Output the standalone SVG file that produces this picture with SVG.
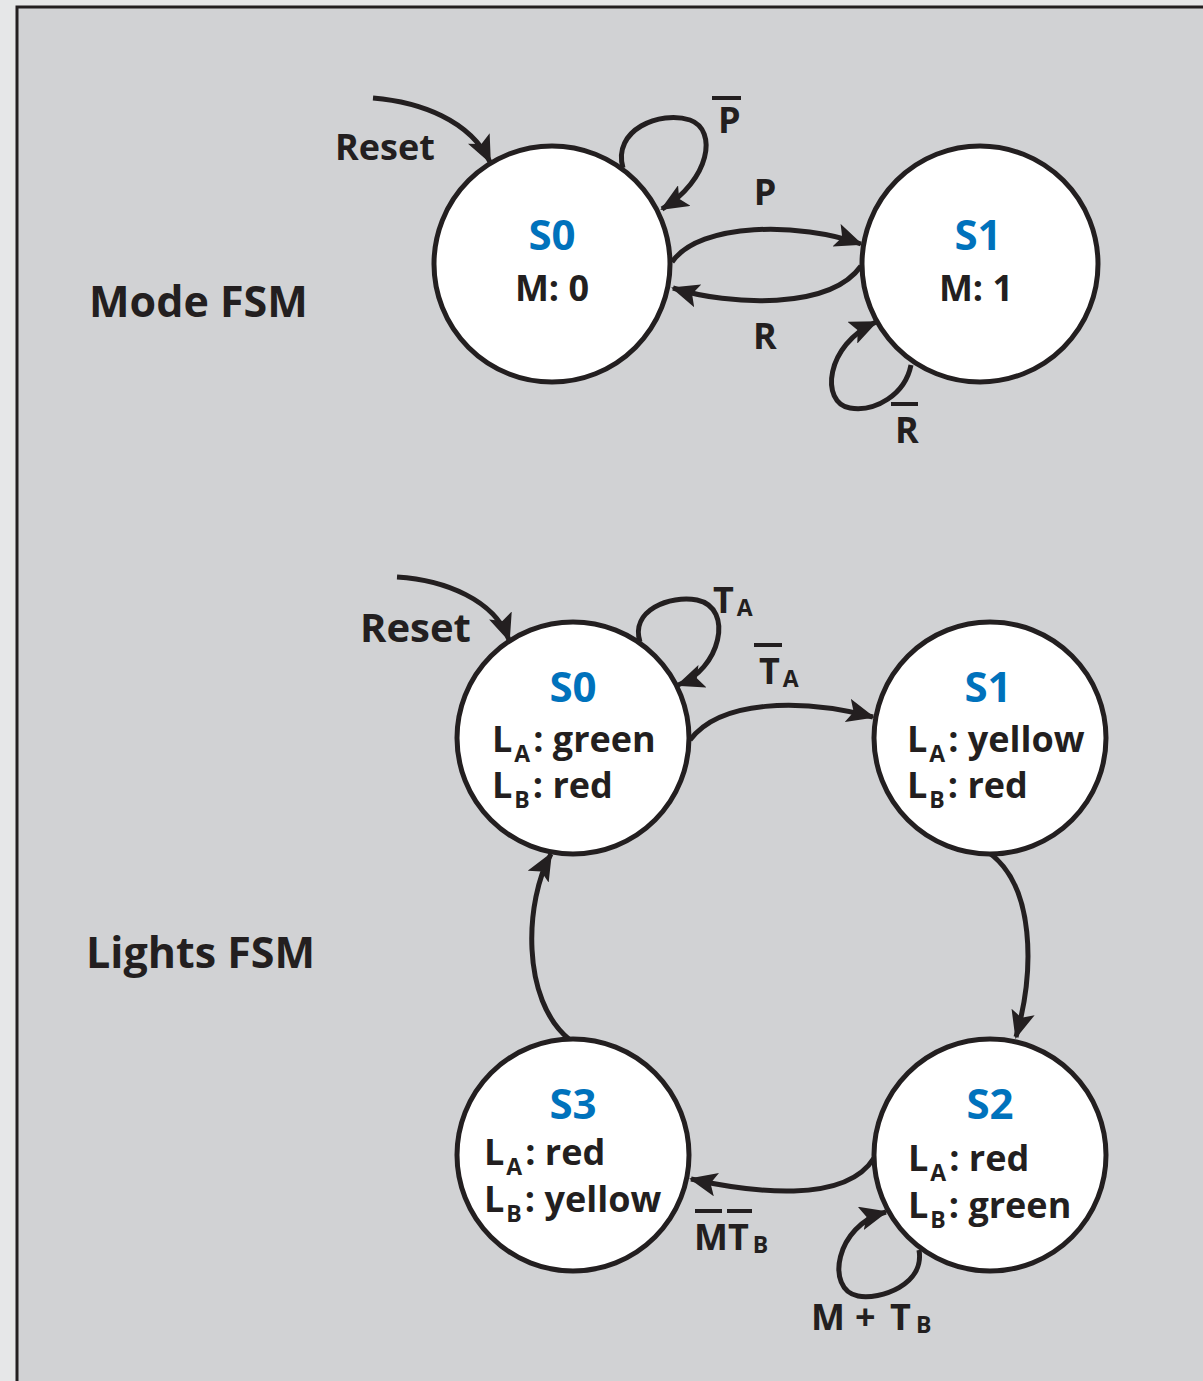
<svg xmlns="http://www.w3.org/2000/svg" width="1203" height="1381" viewBox="0 0 1203 1381">
<defs>
<marker id="ah" viewBox="0 0 28 24" refX="26" refY="12" markerWidth="28" markerHeight="24" markerUnits="userSpaceOnUse" orient="auto">
<path d="M0,0 L28,12 L0,24 L6,12 Z" fill="#231f20"/>
</marker>
<style>
.st{fill:#fff;stroke:#231f20;stroke-width:5}
.e{fill:none;stroke:#231f20;stroke-width:5;marker-end:url(#ah)}
.ol{stroke:#231f20;stroke-width:4}
text{font-family:"Open Sans","Liberation Sans",sans-serif;font-weight:700;fill:#231f20}
.nm{fill:#0072bc;font-size:42px;text-anchor:middle}
.t{font-size:36px}
.sub{font-size:23px}
.lbl{font-size:36px}
.big{font-size:43px}
</style>
</defs>
<rect width="1203" height="1381" fill="#e6e7e8"/>
<rect x="17" y="7" width="1200" height="1400" fill="#d1d2d4" stroke="#231f20" stroke-width="3"/>
<text class="big" x="89" y="317">Mode FSM</text>
<text class="big" x="86" y="968">Lights FSM</text>
<g id="connectors">
<path class="e" d="M373,98 C420,102 470,120 490,162"/>
<path class="e" d="M623,168 C612,130 660,110 690,120 C718,130 710,180 662,209"/>
<path class="e" d="M672,262 C700,222 800,222 861,244"/>
<path class="e" d="M861,266 C830,310 730,306 673,288"/>
<path class="e" d="M911,365 C905,395 875,412 850,408 C820,403 825,345 876,322"/>
<path class="e" d="M397,577 C445,580 495,600 509,640"/>
<path class="e" d="M640,642 C630,610 670,595 697,600 C735,608 720,670 678,685"/>
<path class="e" d="M690,740 C720,700 800,698 873,717"/>
<path class="e" d="M988,852 C1035,885 1035,970 1016,1037"/>
<path class="e" d="M570,1040 C520,1000 525,900 551,854"/>
<path class="e" d="M874,1158 C845,1205 750,1192 691,1179"/>
<path class="e" d="M919,1250 C925,1285 880,1300 858,1296 C825,1290 835,1225 886,1212"/>
</g>
<g id="labels">
<text class="lbl" x="335" y="160">Reset</text>
<text class="lbl" x="718" y="133">P</text>
<line class="ol" x1="712" y1="98" x2="741" y2="98"/>
<text class="lbl" x="765" y="205" text-anchor="middle">P</text>
<text class="lbl" x="765" y="349" text-anchor="middle">R</text>
<text class="lbl" x="895" y="443">R</text>
<line class="ol" x1="891" y1="404" x2="918" y2="404"/>
<text class="lbl" x="360" y="642" style="font-size:40px">Reset</text>
<text class="lbl" x="713" y="613">T<tspan class="sub" dx="3" dy="3">A</tspan></text>
<text class="lbl" x="759" y="684">T<tspan class="sub" dx="3" dy="3">A</tspan></text>
<line class="ol" x1="754" y1="645" x2="782" y2="645"/>
<text class="lbl" x="694" y="1250">MT<tspan class="sub" dx="4" dy="3">B</tspan></text>
<line class="ol" x1="695" y1="1211" x2="722" y2="1211"/>
<line class="ol" x1="727" y1="1211" x2="752" y2="1211"/>
<text class="lbl" x="811" y="1330">M <tspan x="855">+</tspan> <tspan x="890">T</tspan><tspan class="sub" x="916" dy="3">B</tspan></text>
</g>
<g id="mode-s0">
<circle class="st" cx="552" cy="264" r="118"/>
<text class="nm" x="552" y="250">S0</text>
<text class="t" x="552" y="301" text-anchor="middle">M: 0</text>
</g>
<g id="mode-s1">
<circle class="st" cx="980" cy="264" r="118"/>
<text class="nm" x="978" y="250">S1</text>
<text class="t" x="976" y="301" text-anchor="middle">M: 1</text>
</g>
<g id="lights-s0">
<circle class="st" cx="573" cy="738" r="116"/>
<text class="nm" x="573" y="702">S0</text>
<text class="t" x="492" y="752">L<tspan class="sub" dx="2" dy="10">A</tspan><tspan dx="3" dy="-10">: green</tspan></text>
<text class="t" x="492" y="798">L<tspan class="sub" dx="2" dy="10">B</tspan><tspan dx="3" dy="-10">: red</tspan></text>
</g>
<g id="lights-s1">
<circle class="st" cx="990" cy="738" r="116"/>
<text class="nm" x="988" y="702">S1</text>
<text class="t" x="907" y="752">L<tspan class="sub" dx="2" dy="10">A</tspan><tspan dx="3" dy="-10">: yellow</tspan></text>
<text class="t" x="907" y="798">L<tspan class="sub" dx="2" dy="10">B</tspan><tspan dx="3" dy="-10">: red</tspan></text>
</g>
<g id="lights-s2">
<circle class="st" cx="990" cy="1155" r="116"/>
<text class="nm" x="990" y="1119">S2</text>
<text class="t" x="908" y="1171">L<tspan class="sub" dx="2" dy="10">A</tspan><tspan dx="3" dy="-10">: red</tspan></text>
<text class="t" x="908" y="1218">L<tspan class="sub" dx="2" dy="10">B</tspan><tspan dx="3" dy="-10">: green</tspan></text>
</g>
<g id="lights-s3">
<circle class="st" cx="573" cy="1155" r="116"/>
<text class="nm" x="573" y="1119">S3</text>
<text class="t" x="484" y="1165">L<tspan class="sub" dx="2" dy="10">A</tspan><tspan dx="3" dy="-10">: red</tspan></text>
<text class="t" x="484" y="1212">L<tspan class="sub" dx="2" dy="10">B</tspan><tspan dx="3" dy="-10">: yellow</tspan></text>
</g>
</svg>
